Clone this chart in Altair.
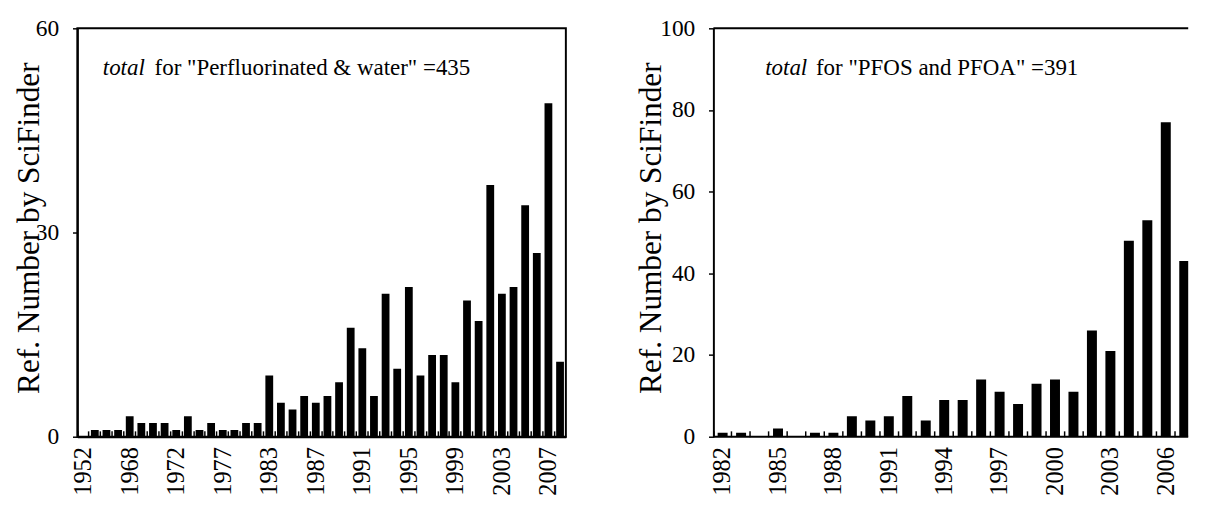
import altair as alt
import pandas as pd

# ---------------- data ----------------
left_years = ["1952", "1958", "1963", "1966", "1968", "1969", "1970", "1971",
              "1972", "1973", "1974", "1975", "1977", "1979", "1980", "1982",
              "1983", "1984", "1985", "1986", "1987", "1988", "1989", "1990",
              "1991", "1992", "1993", "1994", "1995", "1996", "1997", "1998",
              "1999", "2000", "2001", "2002", "2003", "2004", "2005", "2006",
              "2007", "2008"]
left_counts = [0, 1, 1, 1, 3, 2, 2, 2, 1, 3, 1, 2, 1, 1, 2, 2,
               9, 5, 4, 6, 5, 6, 8, 16, 13, 6, 21, 10, 22, 9, 12, 12,
               8, 20, 17, 37, 21, 22, 34, 27, 49, 11]
left_shown = ["1952", "1968", "1972", "1977", "1983", "1987", "1991",
              "1995", "1999", "2003", "2007"]
left_yticks = [0, 30, 60]
left_note_italic = "total"
left_note_rest = 'for "Perfluorinated & water" =435'

right_years = ["1982", "1983", "1984", "1985", "1986", "1987", "1988", "1989",
               "1990", "1991", "1992", "1993", "1994", "1995", "1996", "1997",
               "1998", "1999", "2000", "2001", "2002", "2003", "2004", "2005",
               "2006", "2007"]
right_counts = [1, 1, 0, 2, 0, 1, 1, 5, 4, 5, 10, 4, 9, 9, 14, 11,
                8, 13, 14, 11, 26, 21, 48, 53, 77, 43]
right_shown = ["1982", "1985", "1988", "1991", "1994", "1997", "2000",
               "2003", "2006"]
right_yticks = [0, 20, 40, 60, 80, 100]
right_note_italic = "total"
right_note_rest = 'for "PFOS and PFOA" =391'

y_title = "Ref. Number by SciFinder"

# ---------------- layout ----------------
FONT = "Liberation Serif"
H = 418
LW = 500
RW = 486
R_SPAN = 491.4
NOTE_SIZE = 23.5
TITLE_SIZE = 32


def make_panel(years, counts, shown, ymax, yticks, width, span, pad_inner,
               title_x, note_x, rest_x, note_italic, note_rest, open_right):
    df = pd.DataFrame({"year": years, "count": counts})
    shown_js = "[" + ",".join("'" + s + "'" for s in shown) + "]"
    bar_scale = alt.Scale(domain=years, range=[0, span],
                          paddingInner=pad_inner, paddingOuter=pad_inner / 2)
    tick_scale = alt.Scale(domain=years, range=[0, span],
                           paddingInner=0, paddingOuter=0)
    y_scale = alt.Scale(domain=[0, ymax], nice=False)

    bars = alt.Chart(df).mark_bar(color="black", clip=True).encode(
        x=alt.X("year:N", sort=years, scale=bar_scale, axis=alt.Axis(
            title=None,
            labelExpr="indexof(" + shown_js + ", datum.label) >= 0 ? datum.label : ''",
            labelAngle=270, labelAlign="right", labelBaseline="middle",
            labelFont=FONT, labelFontSize=25, labelColor="black",
            labelPadding=10, labelOverlap=False, ticks=False,
            domain=not open_right, domainColor="black", domainWidth=2)),
        y=alt.Y("count:Q", scale=y_scale, axis=alt.Axis(
            values=yticks, title=y_title, titleFont=FONT,
            titleFontSize=TITLE_SIZE,
            titleFontWeight="normal", titleColor="black",
            titleX=title_x, titleY=204, titleAngle=270,
            titleAlign="center", titleBaseline="middle",
            labelFont=FONT, labelFontSize=24, labelColor="black",
            labelPadding=14, tickSize=5, tickColor="black", tickWidth=1.5,
            domainColor="black", domainWidth=2, grid=False)),
    )

    ticks = alt.Chart(df).mark_bar(opacity=0, clip=True).encode(
        x=alt.X("year:N", sort=years, scale=tick_scale, axis=alt.Axis(
            orient="top", offset=-H, labels=False, domain=False, ticks=True,
            tickSize=6, tickColor="black", tickWidth=1.5, bandPosition=0,
            title=None)),
    )

    n1 = pd.DataFrame({"t": [note_italic]})
    n2 = pd.DataFrame({"t": [note_rest]})
    note1 = alt.Chart(n1).mark_text(
        align="left", baseline="alphabetic", font=FONT, fontSize=NOTE_SIZE,
        fontStyle="italic", color="black").encode(
        x=alt.value(note_x), y=alt.value(48), text="t:N")
    note2 = alt.Chart(n2).mark_text(
        align="left", baseline="alphabetic", font=FONT, fontSize=NOTE_SIZE,
        color="black").encode(
        x=alt.value(rest_x), y=alt.value(48), text="t:N")

    layers = [bars, ticks, note1, note2]
    if open_right:
        top_rule = alt.Chart(n1).mark_rule(color="black", strokeWidth=2).encode(
            x=alt.value(0), x2=alt.value(width), y=alt.value(0))
        base_rule = alt.Chart(n1).mark_rule(color="black", strokeWidth=2).encode(
            x=alt.value(0), x2=alt.value(width), y=alt.value(H))
        layers += [top_rule, base_rule]
        view = alt.ViewBackground(stroke="transparent")
    else:
        view = alt.ViewBackground(stroke="black", strokeWidth=2)

    return alt.layer(*layers).resolve_scale(x="independent").properties(
        width=width, height=H, view=view)


left = make_panel(left_years, left_counts, left_shown, 60, left_yticks,
                  LW, LW, 0.33, -50, 26, 79,
                  left_note_italic, left_note_rest, False)
right = make_panel(right_years, right_counts, right_shown, 100, right_yticks,
                   RW, R_SPAN, 0.46, -64, 53, 105,
                   right_note_italic, right_note_rest, True)

chart = alt.hconcat(left, right, spacing=62).properties(
    padding={"left": 3, "top": 2, "right": 0, "bottom": 0},
    background="white",
).configure(font=FONT).configure_axis(
    labelFont=FONT, titleFont=FONT
).configure_text(font=FONT)

chart.save("out.html", embed_options={"renderer": "svg", "actions": False})
